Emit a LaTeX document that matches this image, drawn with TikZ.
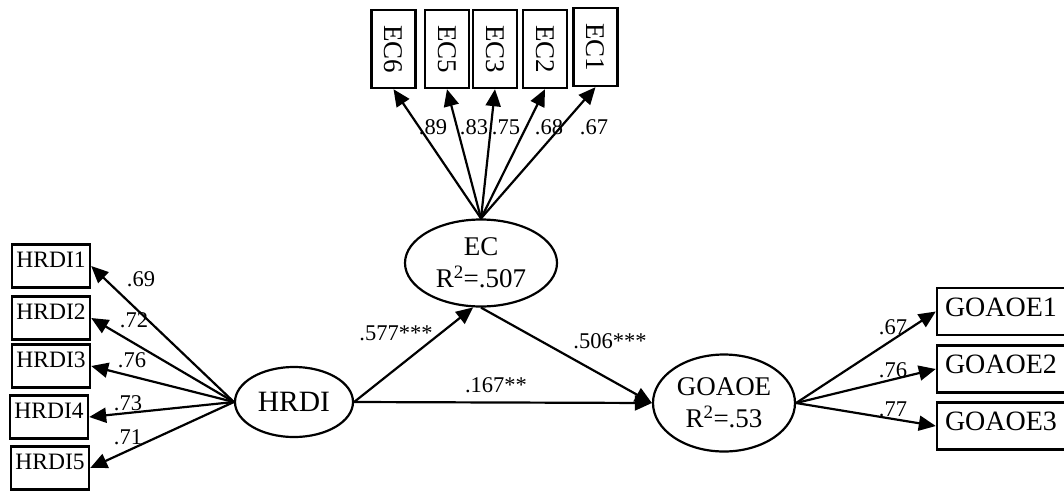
\documentclass[tikz,border=0pt]{standalone}
\usepackage{fontspec}
\setmainfont{Liberation Serif}
\usepackage{graphicx}
\usetikzlibrary{arrows.meta,shapes.geometric}
\begin{document}
\begin{tikzpicture}[x=1pt,y=-1pt,
  obs/.style={draw, line width=2.4pt, inner sep=0pt},
  hbox/.style={obs, minimum width=78pt, minimum height=43pt, font=\fontsize{23.5}{26}\selectfont, text height=10pt, text depth=7pt},
  gbox/.style={obs, minimum width=132pt, minimum height=47pt, font=\fontsize{28}{30}\selectfont, text height=14pt, text depth=4.5pt},
  ebox/.style={obs, minimum width=44pt, minimum height=78pt, font=\fontsize{27}{30}\selectfont},
  lat/.style={draw, ellipse, line width=2.2pt, inner sep=0pt, align=center, font=\fontsize{27}{32}\selectfont},
  arr/.style={line width=2.2pt, -{Triangle[length=17pt,width=15pt]}},
  lbl/.style={font=\fontsize{22.5}{24}\selectfont, inner sep=0pt}
]
\useasboundingbox (0,0) rectangle (1064,493);

% latent variables
\node[lat, minimum width=152pt, minimum height=87pt] (ec) at (481,263) {EC\\R\textsuperscript{2}=.507};
\node[lat, minimum width=118pt, minimum height=70pt, font=\fontsize{29.5}{32}\selectfont] (hrdi) at (294,402) {HRDI};
\node[lat, minimum width=142pt, minimum height=97pt] (goaoe) at (724,403) {GOAOE\\R\textsuperscript{2}=.53};

% HRDI indicators
\node[hbox] (h1) at (51,266) {HRDI1};
\node[hbox] (h2) at (51,318) {HRDI2};
\node[hbox] (h3) at (51,366) {HRDI3};
\node[hbox] (h4) at (49,417) {HRDI4};
\node[hbox] (h5) at (50,468) {HRDI5};

% EC indicators
\node[ebox] (e6) at (393.5,49) {\rotatebox{-90}{EC6}};
\node[ebox] (e5) at (447,49) {\rotatebox{-90}{EC5}};
\node[ebox] (e3) at (495,49) {\rotatebox{-90}{EC3}};
\node[ebox] (e2) at (545,49) {\rotatebox{-90}{EC2}};
\node[ebox] (e1) at (595.5,47) {\rotatebox{-90}{EC1}};

% GOAOE indicators
\node[gbox] (g1) at (1003,311.5) {GOAOE1\hspace*{4pt}};
\node[gbox] (g2) at (1003,369) {GOAOE2\hspace*{4pt}};
\node[gbox] (g3) at (1003,426) {GOAOE3\hspace*{4pt}};

% measurement arrows
\foreach \b in {h1,h2,h3,h4,h5} \draw[arr] (hrdi.west) -- (\b.east);
\foreach \b in {e6,e5,e3,e2,e1} \draw[arr] (ec.north) -- (\b.south);
\foreach \b in {g1,g2,g3} \draw[arr] (goaoe.east) -- (\b.west);

% structural arrows
\draw[arr] (hrdi.east) -- (ec.260);
\draw[arr] (hrdi.east) -- (goaoe.west);
\draw[arr] (ec.south) -- (goaoe.west);

% labels
\node[lbl] (l1) at (141,279) {.69};
\node[lbl] (l2) at (134,320) {.72};
\node[lbl] (l3) at (132,360) {.76};
\node[lbl] (l4) at (128,403) {.73};
\node[lbl] (l5) at (128,437) {.71};

\node[lbl] (l6) at (433,127) {.89};
\node[lbl] (l7) at (474,127) {.83};
\node[lbl] (l8) at (506,127) {.75};
\node[lbl] (l9) at (549,127) {.68};
\node[lbl] (l10) at (594,127) {.67};

\node[lbl] (l11) at (893,327) {.67};
\node[lbl] (l12) at (893,370) {.76};
\node[lbl] (l13) at (893,409) {.77};

\node[lbl] (s1) at (396,333) {.577***};
\node[lbl] (s2) at (610,341) {.506***};
\node[lbl] (s3) at (496,385) {.167**};
\end{tikzpicture}
\end{document}
